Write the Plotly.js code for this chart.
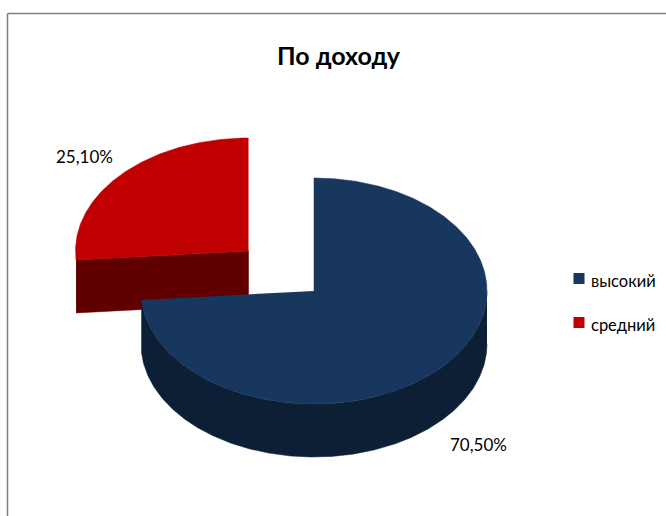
<!DOCTYPE html>
<html>
<head>
<meta charset="utf-8">
<script src="https://cdn.plot.ly/plotly-3.0.1.min.js"></script>
<style>html,body{margin:0;padding:0;background:#fff;overflow:hidden}#chart{width:666px;height:516px}</style>
</head>
<body>
<div id="chart"></div>
<script>
// Income breakdown, in percent
const chartTitle = 'По доходу';
const categories = ['высокий', 'средний'];
const shares = [70.5, 25.1];

// Slice colours: top face and side wall
const topColors = ['#17375E', '#C00000'];
const sideColors = ['#0D1F35', '#600000'];

const FONT = 'Lato, "Liberation Sans", sans-serif';

// Tilted-pie geometry, in axis units
const RX = 173, RY = 113, DEPTH = 53;
const centers = [{x: 314, y: 291}, {x: 248.5, y: 251}];

const total = shares.reduce((a, b) => a + b, 0);
const sweep = shares.map(v => v / total * 2 * Math.PI);

// Point on the rim of a slice; the angle runs clockwise from twelve o'clock
function rim(c, a, drop) {
  return {x: c.x + RX * Math.sin(a), y: c.y - RY * Math.cos(a) + (drop || 0)};
}
function arc(c, a0, a1, drop) {
  const n = Math.max(2, Math.ceil(Math.abs(a1 - a0) / 0.01));
  const pts = [];
  for (let i = 0; i <= n; i++) pts.push(rim(c, a0 + (a1 - a0) * i / n, drop));
  return pts;
}
function polygon(pts, color, name) {
  return {
    type: 'scatter', mode: 'lines', name: name,
    x: pts.map(p => p.x), y: pts.map(p => p.y),
    fill: 'toself', fillcolor: color,
    line: {color: color, width: 0.5},
    hoverinfo: 'name', showlegend: false
  };
}

const a0 = 0, a1 = sweep[0], a2 = 2 * Math.PI;

// The detached slice: its cut face, then its top
const cutFace = [rim(centers[1], a1), centers[1],
  {x: centers[1].x, y: centers[1].y + DEPTH}, rim(centers[1], a1, DEPTH)];
const lowerTop = [centers[1]].concat(arc(centers[1], a1, a2));

// The main slice: outer wall from three o'clock round to the cut, then its top
const wallFront = arc(centers[0], Math.PI / 2, a1);
const wallBack = arc(centers[0], a1, Math.PI / 2, DEPTH);
const mainTop = [centers[0]].concat(arc(centers[0], a0, a1));

const traces = [
  polygon(cutFace, sideColors[1], categories[1]),
  polygon(lowerTop, topColors[1], categories[1]),
  polygon(wallFront.concat(wallBack), sideColors[0], categories[0]),
  polygon(mainTop, topColors[0], categories[0]),
  // Legend swatches
  {
    type: 'scatter', mode: 'markers',
    x: [579, 579], y: [278.5, 322.5],
    marker: {symbol: 'square', size: 11, color: topColors},
    hoverinfo: 'skip', showlegend: false
  }
];

const pct = v => v.toFixed(2).replace('.', ',') + '%';
const textAt = (x, y, text, size, anchor) => ({
  x: x, y: y, xref: 'x', yref: 'y', text: text, showarrow: false,
  xanchor: anchor || 'center', yanchor: 'middle',
  font: {family: FONT, size: size, color: '#000'}
});

const layout = {
  width: 666, height: 516,
  margin: {l: 0, r: 0, t: 0, b: 0},
  paper_bgcolor: '#fff', plot_bgcolor: '#fff',
  showlegend: false,
  xaxis: {range: [0, 666], visible: false, fixedrange: true},
  yaxis: {range: [516, 0], visible: false, fixedrange: true},
  annotations: [
    textAt(339, 55, '<b>' + chartTitle + '</b>', 25),
    textAt(84, 156, pct(shares[1]), 17),
    textAt(478.5, 444, pct(shares[0]), 17),
    textAt(589, 281, categories[0], 16.5, 'left'),
    textAt(589, 324.5, categories[1], 16.5, 'left')
  ],
  shapes: [
    {type: 'line', x0: 7.5, x1: 666, y0: 13.5, y1: 13.5, xref: 'x', yref: 'y', line: {color: '#808080', width: 1.5}},
    {type: 'line', x0: 7.5, x1: 7.5, y0: 13.5, y1: 516, xref: 'x', yref: 'y', line: {color: '#808080', width: 1.5}}
  ]
};

Plotly.newPlot('chart', traces, layout, {displayModeBar: false, staticPlot: true});
</script>
</body>
</html>
